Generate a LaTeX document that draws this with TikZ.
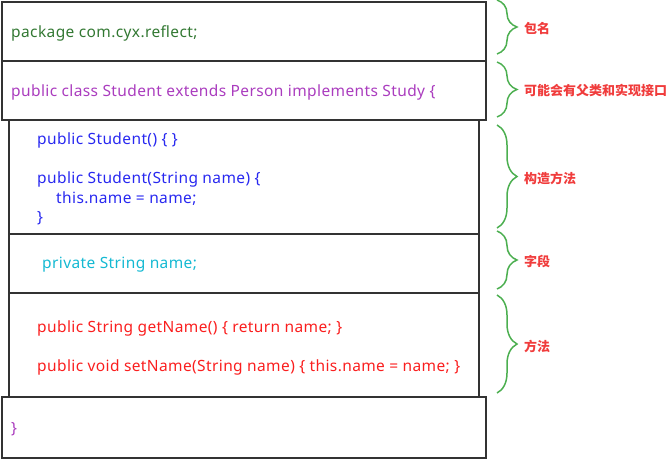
\documentclass[tikz,border=0pt]{standalone}
\usepackage{fontspec}
\setmainfont{Noto Sans}[LetterSpace=2.5]
\newfontfamily\cjk{Noto Sans CJK SC}
\usetikzlibrary{decorations.pathreplacing}
\definecolor{pkggreen}{RGB}{50,120,50}
\definecolor{clspurple}{RGB}{170,60,190}
\definecolor{ctorblue}{RGB}{40,40,240}
\definecolor{fieldcyan}{RGB}{20,185,210}
\definecolor{methred}{RGB}{250,30,30}
\definecolor{bracegreen}{RGB}{76,175,80}
\definecolor{notered}{RGB}{240,60,60}
\tikzset{
  box/.style={draw=black!80, line width=1.6pt, anchor=north west, inner sep=0pt},
  code/.style={anchor=west, inner sep=0pt, font=\fontsize{15.5}{19.5}\selectfont, align=left},
  brc/.style={draw=bracegreen, line width=1.5pt, decorate,
    decoration={brace, amplitude=20pt, aspect=0.5}},
  note/.style={anchor=west, inner sep=0pt, text=notered, font=\cjk\bfseries\fontsize{13}{14}\selectfont}
}

\begin{document}
\begin{tikzpicture}[x=1pt,y=-1pt]
  \useasboundingbox (0,0) rectangle (667,459);
  % Inner boxes
  \node[box, minimum width=470pt, minimum height=114pt] (ctor) at (8,119) {};
  \node[box, minimum width=470pt, minimum height=59pt] (field) at (8,233) {};
  \node[box, minimum width=470pt, minimum height=104pt] (meth) at (8,292) {};
  % Outer boxes
  \node[box, minimum width=484pt, minimum height=59pt] (pkg) at (1,1) {};
  \node[box, minimum width=484pt, minimum height=59pt] (cls) at (1,60) {};
  \node[box, minimum width=484pt, minimum height=61pt] (end) at (1,396) {};
  % Code
  \node[code, text=pkggreen] (pkgtxt) at (11,33) {package com.cyx.reflect;};
  \node[code, text=clspurple] (clstxt) at (11,92) {public class Student extends Person implements Study \{};
  \node[code, text=ctorblue] (ctor1) at (37,140) {public Student() \{ \}};
  \node[code, text=ctorblue, anchor=north west] (ctor2) at (37,172)
    {public Student(String name) \{\\\hspace*{19pt}this.name = name;\\\}};
  \node[code, text=fieldcyan] (fieldtxt) at (42,265) {private String name;};
  \node[code, text=methred] (meth1) at (37,328) {public String getName() \{ return name; \}};
  \node[code, text=methred] (meth2) at (37,367) {public void setName(String name) \{ this.name = name; \}};
  \node[code, text=clspurple] (endtxt) at (11,429) {\}};
  % Braces
  \coordinate (b1s) at (497,0);   \coordinate (b1e) at (497,54);
  \coordinate (b2s) at (497,62);  \coordinate (b2e) at (497,117);
  \coordinate (b3s) at (497,125); \coordinate (b3e) at (497,228);
  \coordinate (b4s) at (497,231); \coordinate (b4e) at (497,289);
  \coordinate (b5s) at (497,295); \coordinate (b5e) at (497,393);
  \draw[brc] (b1s) -- (b1e);
  \draw[brc] (b2s) -- (b2e);
  \draw[brc] (b3s) -- (b3e);
  \draw[brc] (b4s) -- (b4e);
  \draw[brc] (b5s) -- (b5e);
  % Labels
  \node[note] (n1) at (524,29) {包名};
  \node[note] (n2) at (524,90) {可能会有父类和实现接口};
  \node[note] (n3) at (524,178) {构造方法};
  \node[note] (n4) at (524,261) {字段};
  \node[note] (n5) at (524,346) {方法};
\end{tikzpicture}
\end{document}
